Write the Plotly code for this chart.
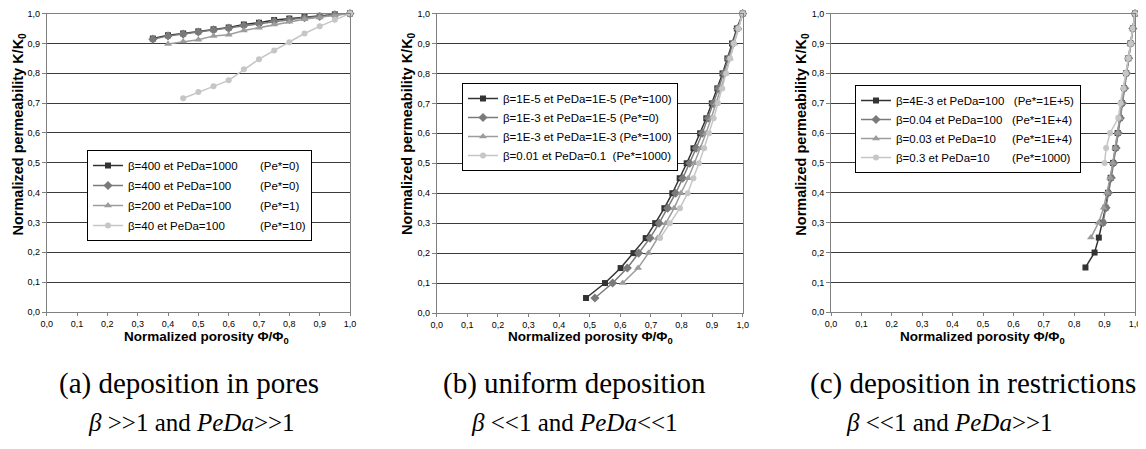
import plotly.graph_objects as go

# ---------------- data ----------------
# Panel (a): deposition in pores
a_x1 = [0.35, 0.40, 0.45, 0.50, 0.55, 0.60, 0.65, 0.70, 0.75, 0.80, 0.85, 0.90, 0.95, 1.00]
a_y1 = [0.916, 0.927, 0.933, 0.940, 0.947, 0.953, 0.963, 0.969, 0.978, 0.983, 0.989, 0.992, 0.997, 1.000]
a_x2 = [0.35, 0.40, 0.45, 0.50, 0.55, 0.60, 0.65, 0.70, 0.75, 0.80, 0.85, 0.90, 0.95, 1.00]
a_y2 = [0.914, 0.925, 0.931, 0.938, 0.945, 0.951, 0.960, 0.966, 0.974, 0.980, 0.986, 0.990, 0.996, 1.000]
a_x3 = [0.40, 0.45, 0.50, 0.55, 0.60, 0.65, 0.70, 0.75, 0.80, 0.85, 0.90, 0.95, 1.00]
a_y3 = [0.898, 0.906, 0.912, 0.925, 0.929, 0.943, 0.952, 0.963, 0.972, 0.981, 0.987, 0.994, 1.000]
a_x4 = [0.45, 0.50, 0.55, 0.60, 0.65, 0.70, 0.75, 0.80, 0.85, 0.90, 0.95, 1.00]
a_y4 = [0.716, 0.737, 0.756, 0.776, 0.813, 0.847, 0.876, 0.904, 0.933, 0.957, 0.979, 1.000]
a_names = ["β=400 et PeDa=1000", "β=400 et PeDa=100", "β=200 et PeDa=100", "β=40 et PeDa=100"]
a_pe = ["(Pe*=0)", "(Pe*=0)", "(Pe*=1)", "(Pe*=10)"]

# Panel (b): uniform deposition
b_y1 = [0.05, 0.10, 0.15, 0.20, 0.25, 0.30, 0.35, 0.40, 0.45, 0.50, 0.55, 0.60, 0.65, 0.70, 0.75, 0.80, 0.85, 0.90, 0.95, 1.00]
b_x1 = [0.488, 0.550, 0.601, 0.643, 0.683, 0.714, 0.744, 0.770, 0.794, 0.817, 0.839, 0.861, 0.881, 0.899, 0.917, 0.934, 0.950, 0.965, 0.981, 1.000]
b_y2 = [0.05, 0.10, 0.15, 0.20, 0.25, 0.30, 0.35, 0.40, 0.45, 0.50, 0.55, 0.60, 0.65, 0.70, 0.75, 0.80, 0.85, 0.90, 0.95, 1.00]
b_x2 = [0.517, 0.575, 0.623, 0.660, 0.697, 0.727, 0.755, 0.781, 0.804, 0.827, 0.848, 0.868, 0.887, 0.904, 0.921, 0.938, 0.953, 0.968, 0.983, 1.000]
b_y3 = [0.10, 0.15, 0.20, 0.25, 0.30, 0.35, 0.40, 0.45, 0.50, 0.55, 0.60, 0.65, 0.70, 0.75, 0.80, 0.85, 0.90, 0.95, 1.00]
b_x3 = [0.608, 0.658, 0.692, 0.722, 0.749, 0.776, 0.798, 0.822, 0.842, 0.862, 0.880, 0.897, 0.913, 0.929, 0.944, 0.958, 0.972, 0.986, 1.000]
b_y4 = [0.25, 0.30, 0.35, 0.40, 0.45, 0.50, 0.55, 0.60, 0.65, 0.70, 0.75, 0.80, 0.85, 0.90, 0.95, 1.00]
b_x4 = [0.730, 0.762, 0.795, 0.820, 0.839, 0.857, 0.874, 0.890, 0.905, 0.919, 0.933, 0.946, 0.959, 0.971, 0.986, 1.000]
b_names = ["β=1E-5 et PeDa=1E-5", "β=1E-3 et PeDa=1E-5", "β=1E-3 et PeDa=1E-3", "β=0.01 et PeDa=0.1"]
b_pe = ["(Pe*=100)", "(Pe*=0)", "(Pe*=100)", "(Pe*=1000)"]

# Panel (c): deposition in restrictions
c_y1 = [0.15, 0.20, 0.25, 0.30, 0.35, 0.40, 0.45, 0.50, 0.55, 0.60, 0.65, 0.70, 0.75, 0.80, 0.85, 0.90, 0.95, 1.00]
c_x1 = [0.837, 0.867, 0.881, 0.893, 0.903, 0.911, 0.920, 0.928, 0.936, 0.943, 0.950, 0.957, 0.964, 0.971, 0.978, 0.985, 0.993, 1.000]
c_y2 = [0.30, 0.35, 0.40, 0.45, 0.50, 0.55, 0.60, 0.65, 0.70, 0.75, 0.80, 0.85, 0.90, 0.95, 1.00]
c_x2 = [0.895, 0.905, 0.913, 0.922, 0.930, 0.938, 0.945, 0.952, 0.959, 0.966, 0.972, 0.979, 0.986, 0.993, 1.000]
c_y3 = [0.25, 0.30, 0.35, 0.40, 0.45, 0.50, 0.55, 0.60, 0.65, 0.70, 0.75, 0.80, 0.85, 0.90, 0.95, 1.00]
c_x3 = [0.855, 0.880, 0.897, 0.908, 0.918, 0.927, 0.935, 0.943, 0.950, 0.957, 0.964, 0.971, 0.978, 0.985, 0.992, 1.000]
c_y4 = [0.50, 0.55, 0.60, 0.65, 0.70, 0.75, 0.80, 0.85, 0.90, 0.95, 1.00]
c_x4 = [0.900, 0.905, 0.918, 0.945, 0.952, 0.962, 0.970, 0.978, 0.986, 0.993, 1.000]
c_names = ["β=4E-3 et PeDa=100", "β=0.04 et PeDa=100", "β=0.03 et PeDa=10", "β=0.3 et PeDa=10"]
c_pe = ["(Pe*=1E+5)", "(Pe*=1E+4)", "(Pe*=1E+4)", "(Pe*=1000)"]

tick_vals = [0.0, 0.1, 0.2, 0.3, 0.4, 0.5, 0.6, 0.7, 0.8, 0.9, 1.0]

captions_1 = ["(a) deposition in pores", "(b) uniform deposition", "(c) deposition in restrictions"]
captions_2 = ["<i>β</i> &gt;&gt;1 and <i>PeDa</i>&gt;&gt;1",
              "<i>β</i> &lt;&lt;1 and <i>PeDa</i>&lt;&lt;1",
              "<i>β</i> &lt;&lt;1 and <i>PeDa</i>&gt;&gt;1"]

# ---------------- style ----------------
OFF = 8                       # default page margin around the plot div
W, H = 1146 - OFF, 449 - OFF
colors = ["#333333", "#7a7a7a", "#9c9c9c", "#c6c6c6"]
symbols = ["square", "diamond", "triangle-up", "circle"]
msizes = [6, 7, 7, 6]
SANS = "Liberation Sans, Arial, sans-serif"
SERIF = "Liberation Serif, Times New Roman, serif"


def px(x):
    return (x - OFF) / W


def py(y):
    return 1 - (y - OFF) / H


# Arial-compatible advance widths (em) to align the second legend column
CW = {' ': .278, '\u00a0': .278, '=': .584, 'β': .572, 'E': .667, '-': .333, '.': .278,
      'e': .556, 't': .278, 'P': .667, 'D': .722, 'a': .556, '(': .333, ')': .333,
      '*': .389, '+': .584}


def text_w(s):
    return sum(CW.get(ch, .556) for ch in s)


def legend_labels(names, pes, col_em):
    out = []
    for n, p in zip(names, pes):
        gap = max(1, round((col_em - text_w(n)) / .278))
        out.append(n + "\u00a0" * gap + p)
    return out


# plot areas in reference pixels: (left, right, top, bottom)
areas = [(46.7, 350.0, 13.5, 312.0), (436.7, 742.7, 13.5, 313.0), (831.0, 1135.0, 13.5, 312.3)]

fig = go.Figure()

panels = [
    ([a_x1, a_x2, a_x3, a_x4], [a_y1, a_y2, a_y3, a_y4], legend_labels(a_names, a_pe, 11.6)),
    ([b_x1, b_x2, b_x3, b_x4], [b_y1, b_y2, b_y3, b_y4], legend_labels(b_names, b_pe, 9.4)),
    ([c_x1, c_x2, c_x3, c_x4], [c_y1, c_y2, c_y3, c_y4], legend_labels(c_names, c_pe, 10.2)),
]

legend_ids = ["legend", "legend2", "legend3"]
for p, (xs, ys, labels) in enumerate(panels):
    sfx = "" if p == 0 else str(p + 1)
    for k in range(4):
        fig.add_trace(go.Scatter(
            x=xs[k], y=ys[k], mode="lines+markers", name=labels[k],
            xaxis="x" + sfx, yaxis="y" + sfx,
            line=dict(color=colors[k], width=1.5),
            marker=dict(symbol=symbols[k], size=msizes[k], color=colors[k],
                        line=dict(width=0)),
            legend=legend_ids[p], legendgroup=f"g{p}{k}",
            cliponaxis=False, showlegend=True,
        ))

layout = dict(
    template="none",
    width=W, height=H, margin=dict(l=0, r=0, t=0, b=0, pad=0, autoexpand=False),
    paper_bgcolor="white", plot_bgcolor="white",
    separators=", ", showlegend=True,
    font=dict(family=SANS, color="black"),
)

for p, (l, r, t, b) in enumerate(areas):
    sfx = "" if p == 0 else str(p + 1)
    layout["xaxis" + sfx] = dict(
        domain=[px(l), px(r)], anchor="y" + sfx, range=[0, 1],
        tickvals=tick_vals, tickformat=".1f", automargin=False,
        ticklabeloverflow="allow",
        ticks="outside", ticklen=3, tickcolor="#808080", tickwidth=1,
        showline=True, linecolor="#808080", linewidth=1, mirror=True,
        showgrid=False, zeroline=False,
        tickfont=dict(size=9, family=SANS, color="black"), fixedrange=True,
    )
    layout["yaxis" + sfx] = dict(
        domain=[py(b), py(t)], anchor="x" + sfx, range=[0, 1],
        tickvals=tick_vals, tickformat=".1f", automargin=False,
        ticklabeloverflow="allow",
        ticks="outside", ticklen=4, tickcolor="#808080", tickwidth=1,
        showline=True, linecolor="#808080", linewidth=1, mirror=True,
        showgrid=True, gridcolor="#3a3a3a", gridwidth=1, zeroline=False,
        tickfont=dict(size=9, family=SANS, color="black"), fixedrange=True,
    )

legend_pos = [(87, 150, 1), (462, 83, 0), (855, 85, 0)]
for p, (lx, ly, gap) in enumerate(legend_pos):
    layout[legend_ids[p]] = dict(
        x=px(lx), y=py(ly), xanchor="left", yanchor="top",
        bgcolor="white", bordercolor="black", borderwidth=1,
        font=dict(size=11.5, family=SANS, color="black"),
        tracegroupgap=gap, itemwidth=30,
    )

annotations = []
ytitle_x = [18.5, 408, 801.7]
xtitle_x = [206, 590, 982]
cap1_x = [189, 574, 973]
cap2_x = [191, 574, 949]
for p in range(3):
    annotations.append(dict(
        text="<b>Normalized permeability K/K<sub>0</sub></b>", textangle=-90,
        x=px(ytitle_x[p]), y=py(134), xref="paper", yref="paper",
        xanchor="center", yanchor="middle", showarrow=False,
        font=dict(size=14.5, family=SANS, color="black")))
    annotations.append(dict(
        text="<b>Normalized porosity Φ/Φ<sub>0</sub></b>",
        x=px(xtitle_x[p]), y=py(337), xref="paper", yref="paper",
        xanchor="center", yanchor="middle", showarrow=False,
        font=dict(size=13.5, family=SANS, color="black")))
    annotations.append(dict(
        text=captions_1[p], x=px(cap1_x[p]), y=py(383), xref="paper", yref="paper",
        xanchor="center", yanchor="middle", showarrow=False,
        font=dict(size=29, family=SERIF, color="black")))
    annotations.append(dict(
        text=captions_2[p], x=px(cap2_x[p]), y=py(422), xref="paper", yref="paper",
        xanchor="center", yanchor="middle", showarrow=False,
        font=dict(size=25, family=SERIF, color="black")))

layout["annotations"] = annotations
fig.update_layout(**layout)
fig.write_html("out.html")
